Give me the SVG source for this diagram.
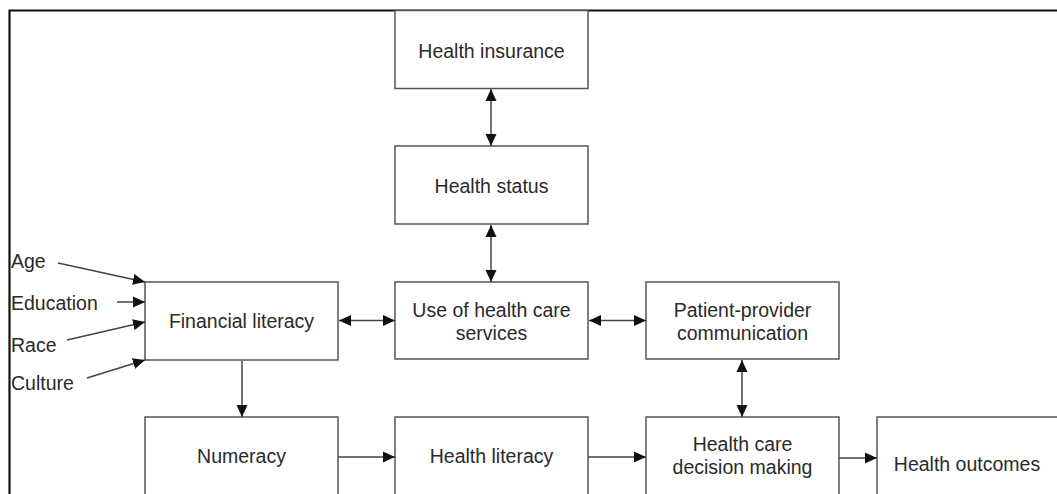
<svg xmlns="http://www.w3.org/2000/svg" width="1057" height="494" viewBox="0 0 1057 494">
<style>
.box{fill:#fff;stroke:#555;stroke-width:1.5}
.t{font-family:"Liberation Sans",Arial,sans-serif;font-size:19.5px;fill:#2a2a2a;text-anchor:middle}
.l{font-family:"Liberation Sans",Arial,sans-serif;font-size:19.5px;fill:#2a2a2a}
.c{stroke:#444;stroke-width:1.5;fill:none}
</style>
<defs>
<marker id="ah" viewBox="0 0 12 12" refX="12" refY="6" markerWidth="12" markerHeight="12" markerUnits="userSpaceOnUse" orient="auto-start-reverse">
<path d="M0,0.5 L12,6 L0,11.5 Z" fill="#111"/>
</marker>
</defs>
<rect x="0" y="0" width="1057" height="494" fill="#fff"/>
<path d="M9.5,494 V10.5 H1057" fill="none" stroke="#111" stroke-width="2.2"/>
<g id="n-insurance"><rect class="box" x="395" y="10.5" width="193" height="78"/><text class="t" x="491.5" y="58">Health insurance</text></g>
<g id="n-status"><rect class="box" x="395" y="146" width="193" height="78"/><text class="t" x="491.5" y="193">Health status</text></g>
<g id="n-use"><rect class="box" x="395" y="282" width="193" height="77"/><text class="t" x="491.5" y="317">Use of health care</text><text class="t" x="491.5" y="340">services</text></g>
<g id="n-ppc"><rect class="box" x="646" y="282" width="193" height="77"/><text class="t" x="742.5" y="317">Patient-provider</text><text class="t" x="742.5" y="340">communication</text></g>
<g id="n-fin"><rect class="box" x="145" y="282" width="193" height="78"/><text class="t" x="241.5" y="328">Financial literacy</text></g>
<g id="n-num"><rect class="box" x="145" y="417" width="193" height="90"/><text class="t" x="241.5" y="463">Numeracy</text></g>
<g id="n-hlit"><rect class="box" x="395" y="417" width="193" height="90"/><text class="t" x="491.5" y="463">Health literacy</text></g>
<g id="n-dec"><rect class="box" x="646" y="417" width="193" height="90"/><text class="t" x="742.5" y="451">Health care</text><text class="t" x="742.5" y="474">decision making</text></g>
<g id="n-out"><rect class="box" x="877" y="417" width="200" height="90"/><text class="t" x="967" y="471">Health outcomes</text></g>
<g id="n-factors"><text class="l" x="11" y="268">Age</text><text class="l" x="11" y="310">Education</text><text class="l" x="11" y="352">Race</text><text class="l" x="11" y="390">Culture</text></g>
<g id="connectors">
<line class="c" x1="58" y1="263" x2="145" y2="282" marker-end="url(#ah)"/>
<line class="c" x1="117" y1="302" x2="145" y2="302" marker-end="url(#ah)"/>
<line class="c" x1="67" y1="340" x2="145" y2="322" marker-end="url(#ah)"/>
<line class="c" x1="87" y1="378" x2="145" y2="360" marker-end="url(#ah)"/>
<line class="c" x1="491" y1="89" x2="491" y2="146" marker-start="url(#ah)" marker-end="url(#ah)"/>
<line class="c" x1="491" y1="225" x2="491" y2="282" marker-start="url(#ah)" marker-end="url(#ah)"/>
<line class="c" x1="339" y1="320.5" x2="395" y2="320.5" marker-start="url(#ah)" marker-end="url(#ah)"/>
<line class="c" x1="589" y1="320.5" x2="646" y2="320.5" marker-start="url(#ah)" marker-end="url(#ah)"/>
<line class="c" x1="742" y1="360" x2="742" y2="417" marker-start="url(#ah)" marker-end="url(#ah)"/>
<line class="c" x1="242" y1="361" x2="242" y2="417" marker-end="url(#ah)"/>
<line class="c" x1="338" y1="457" x2="395" y2="457" marker-end="url(#ah)"/>
<line class="c" x1="588" y1="457" x2="646" y2="457" marker-end="url(#ah)"/>
<line class="c" x1="839" y1="458" x2="877" y2="458" marker-end="url(#ah)"/>
</g>
</svg>
